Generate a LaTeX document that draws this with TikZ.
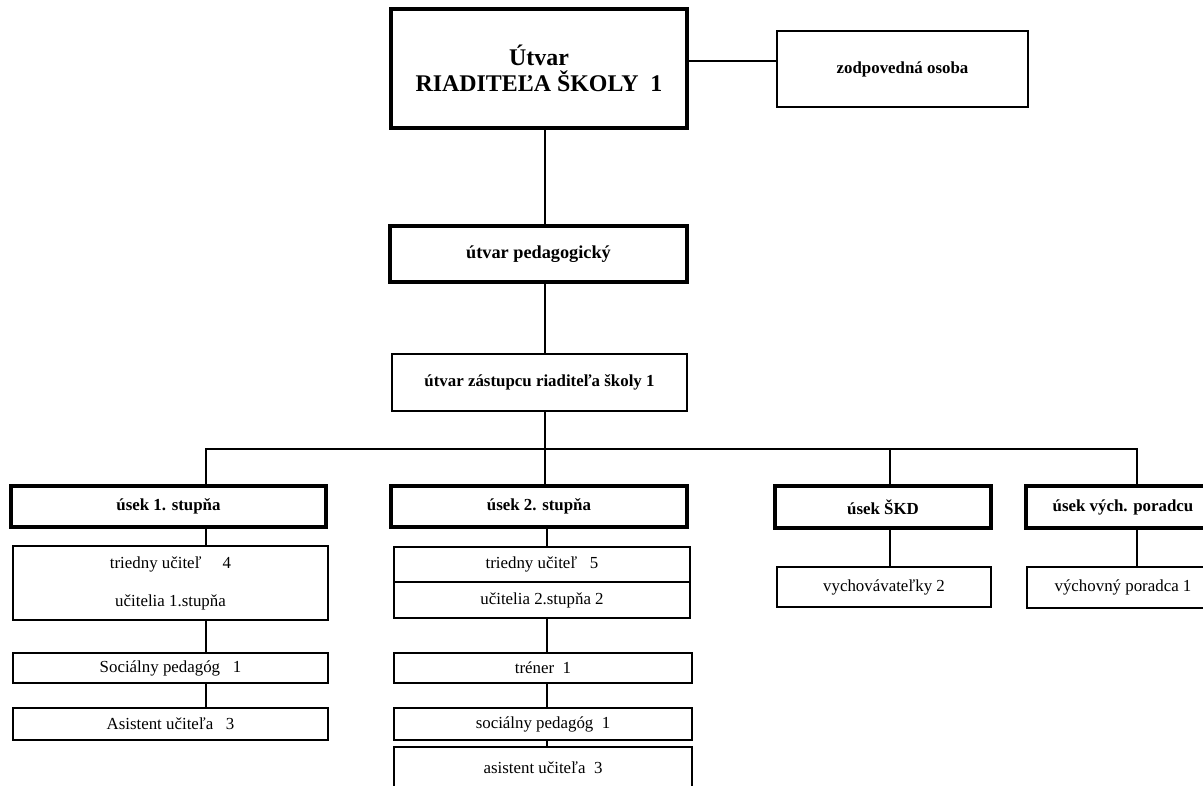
\documentclass[tikz,border=0pt]{standalone}
\usepackage{fontspec}
\setmainfont{Liberation Serif}
\newlength\bu
\setlength\bu{0.025cm}

\begin{document}
\begin{tikzpicture}[x=0.025cm, y=-0.025cm]
    \tikzstyle{every node} = [font=\fontsize{12}{14}\selectfont, inner sep=0pt]
    \tikzstyle{unit} = [draw, line width=2.5pt, font=\fontsize{12}{14}\selectfont\bfseries]
    \tikzstyle{post} = [draw, line width=0.85pt]
    \tikzstyle{link} = [line width=0.85pt]
    \useasboundingbox (0,0) rectangle (1203,786);
    \clip (0,0) rectangle (1203,786);

    % head of the school
    \node[unit, minimum width=296\bu, minimum height=119\bu, align=center,
          font=\fontsize{17}{19}\selectfont\bfseries] (riaditel) at (539,68.5) {Útvar\\RIADITEĽA ŠKOLY\ \ 1};
    \node[post, font=\fontsize{12}{14}\selectfont\bfseries, minimum width=251\bu, minimum height=76\bu] (zodp) at (902.5,69) {zodpovedná osoba};
    \node[unit, font=\fontsize{13}{15}\selectfont\bfseries, minimum width=297\bu, minimum height=56\bu] (pedag) at (538.5,254) {útvar pedagogický};
    \node[post, font=\fontsize{12}{14}\selectfont\bfseries, minimum width=295\bu, minimum height=57\bu] (zast) at (539.5,382.5) {útvar zástupcu riaditeľa školy 1};

    % sections
    \node[unit, minimum width=315\bu, minimum height=41\bu] (usek1) at (168.5,506.5) {úsek 1. stupňa};
    \node[unit, minimum width=296\bu, minimum height=41\bu] (usek2) at (539,506.5) {úsek 2. stupňa};
    \node[unit, minimum width=216\bu, minimum height=42\bu] (usekskd) at (883,507) {úsek ŠKD};
    \node[unit, minimum width=194\bu, minimum height=42\bu] (usekvp) at (1123,507) {úsek vých. poradcu};

    % staff, first level
    \node[post, minimum width=315\bu, minimum height=74\bu, align=center] (triedny4) at (170.5,583) {triedny učiteľ\hspace{12pt} 4\\[13pt]učitelia 1.stupňa};
    \node[post, minimum width=315\bu, minimum height=30\bu] (socped1) at (170.5,668) {Sociálny pedagóg\ \ \ 1};
    \node[post, minimum width=315\bu, minimum height=32\bu] (asist1) at (170.5,724) {Asistent učiteľa\ \ \ 3};

    % staff, second level
    \node[post, minimum width=296\bu, minimum height=35\bu] (triedny5) at (542,564.5) {triedny učiteľ\ \ \ 5};
    \node[post, minimum width=296\bu, minimum height=36\bu] (ucitelia2) at (542,600) {učitelia 2.stupňa 2};
    \node[post, minimum width=298\bu, minimum height=30\bu] (trener) at (543,668) {tréner\ \ 1};
    \node[post, minimum width=298\bu, minimum height=32\bu] (socped2) at (543,724) {sociálny pedagóg\ \ 1};
    \node[post, minimum width=298\bu, minimum height=42\bu] (asist2) at (543,768) {asistent učiteľa\ \ 3};

    % other sections
    \node[post, minimum width=214\bu, minimum height=40\bu] (vychovatel) at (884,587) {vychovávateľky 2};
    \node[post, minimum width=192\bu, minimum height=41\bu] (poradca) at (1123,587.5) {výchovný poradca 1};

    % Connections
    \coordinate (bus1) at (206,449);
    \coordinate (trunk) at (545,449);
    \coordinate (col2) at (547,449);
    \coordinate (bus3) at (890,449);
    \coordinate (bus4) at (1137,449);

    \draw[link] ([yshift=5.3pt]riaditel.east) -- ([yshift=5.3pt]riaditel.east -| zodp.west);
    \draw[link] (riaditel.south -| trunk) -- (pedag.north -| trunk);
    \draw[link] (pedag.south -| trunk) -- (zast.north -| trunk);
    \draw[link] (zast.south -| trunk) -- (usek2.north -| trunk);
    \draw[link] (usek1.north -| bus1) -- (bus1) -- (bus4) -- (usekvp.north -| bus4);
    \draw[link] (bus3) -- (usekskd.north -| bus3);

    \draw[link] (usek1.south -| bus1) -- (triedny4.north -| bus1);
    \draw[link] (triedny4.south -| bus1) -- (socped1.north -| bus1);
    \draw[link] (socped1.south -| bus1) -- (asist1.north -| bus1);

    \draw[link] (usek2.south -| col2) -- (triedny5.north -| col2);
    \draw[link] (ucitelia2.south -| col2) -- (trener.north -| col2);
    \draw[link] (trener.south -| col2) -- (socped2.north -| col2);
    \draw[link] (socped2.south -| col2) -- (asist2.north -| col2);

    \draw[link] (usekskd.south -| bus3) -- (vychovatel.north -| bus3);
    \draw[link] (usekvp.south -| bus4) -- (poradca.north -| bus4);
\end{tikzpicture}
\end{document}
